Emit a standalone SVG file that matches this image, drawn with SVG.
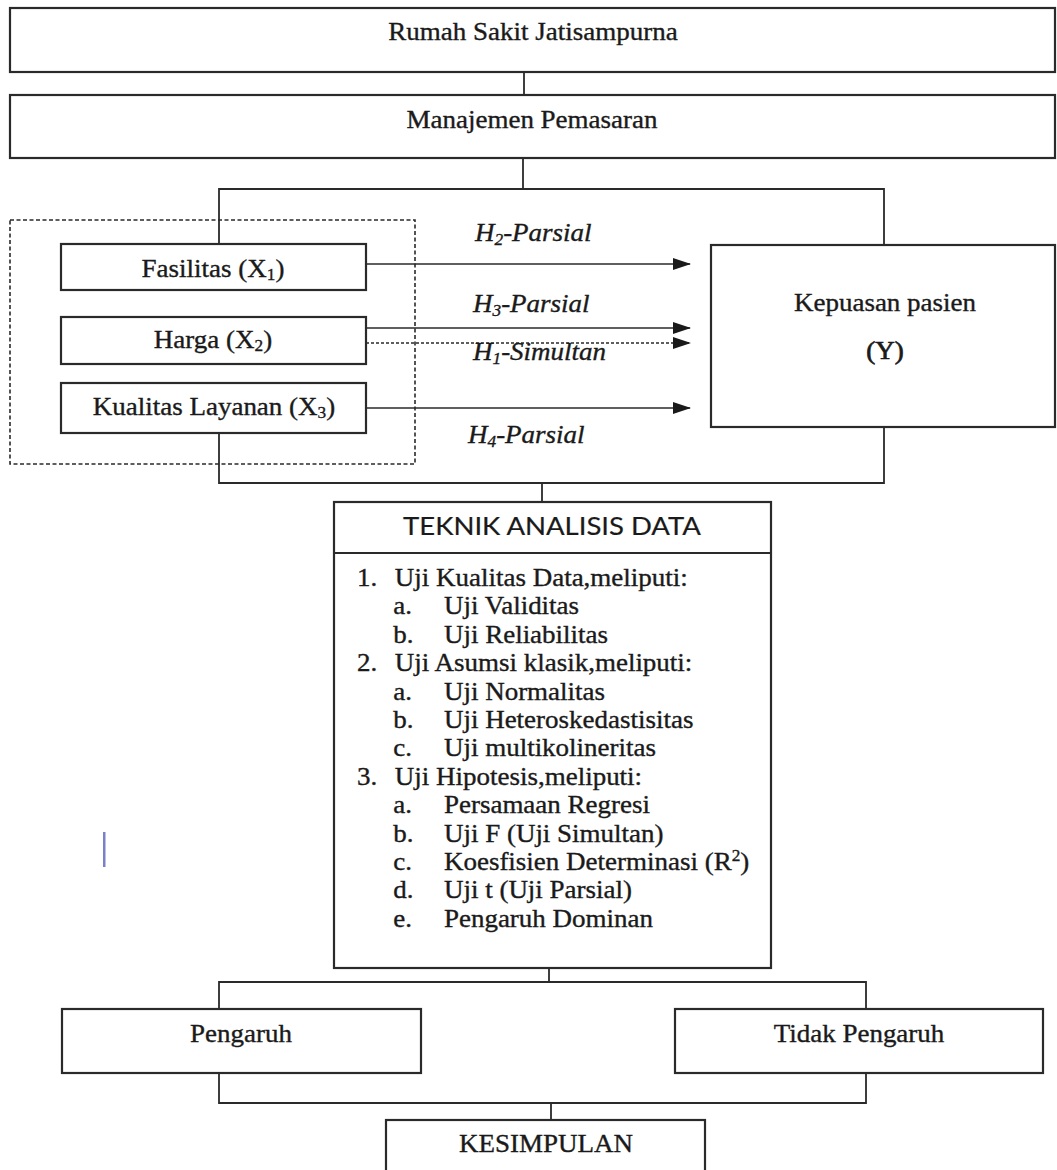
<svg xmlns="http://www.w3.org/2000/svg" width="1057" height="1170" viewBox="0 0 1057 1170">
<style>
.box{fill:#fff;stroke:#2a2a2a;stroke-width:2.2}
.dash{fill:none;stroke:#2a2a2a;stroke-width:1.6;stroke-dasharray:4 2.5}
.ln{fill:none;stroke:#2a2a2a;stroke-width:1.8}
.ar{fill:none;stroke:#2a2a2a;stroke-width:1.4;marker-end:url(#ah)}
.ard{fill:none;stroke:#2a2a2a;stroke-width:1.4;stroke-dasharray:3 2;marker-end:url(#ah)}
.t{font-family:"Liberation Serif","Times New Roman",serif;font-size:25px;fill:#1a1a1a;stroke:#1a1a1a;stroke-width:0.35}
.c{text-anchor:middle}
.it{font-style:italic}
.sans{font-family:Lato,"Open Sans","Liberation Sans",sans-serif;font-size:25px;stroke-width:0.2}
.sub{font-size:16px}
</style>
<defs>
<marker id="ah" markerWidth="18" markerHeight="12" refX="17" refY="6" orient="auto" markerUnits="userSpaceOnUse">
<path d="M0,0 L18,6 L0,12 Z" fill="#1a1a1a"/>
</marker>
</defs>
<rect width="1057" height="1170" fill="#fff"/>

<g id="connectors">
<path class="ln" d="M524,72 V95"/>
<path class="ln" d="M523,158 V189"/>
<path class="ln" d="M219,244 V189 H884 V245"/>
<path class="ln" d="M219,433 V483 H884 V427"/>
<path class="ln" d="M542,483 V502"/>
<path class="ln" d="M549,968 V982"/>
<path class="ln" d="M219,1009 V982 H866 V1009"/>
<path class="ln" d="M219,1073 V1103 H866 V1073"/>
<path class="ln" d="M551,1103 V1120"/>
<path class="ar" d="M366,264 H690"/>
<path class="ar" d="M366,328 H690"/>
<path class="ard" d="M366,343 H690"/>
<path class="ar" d="M366,408 H690"/>
</g>

<g id="group-x">
<rect class="dash" x="10" y="220" width="405" height="244"/>
</g>

<g id="node-rs">
<rect class="box" x="10" y="8" width="1045" height="64"/>
<text class="t c" transform="translate(533,40) scale(1.08,1)">Rumah Sakit Jatisampurna</text>
</g>
<g id="node-mp">
<rect class="box" x="10" y="95" width="1045" height="63"/>
<text class="t c" transform="translate(532,128) scale(1.08,1)">Manajemen Pemasaran</text>
</g>

<g id="node-x1">
<rect class="box" x="61" y="244" width="305" height="46"/>
<text class="t c" transform="translate(213,277) scale(1.08,1)">Fasilitas (X<tspan class="sub" dy="3">1</tspan><tspan dy="-3">)</tspan></text>
</g>
<g id="node-x2">
<rect class="box" x="61" y="317" width="305" height="47"/>
<text class="t c" transform="translate(213,348) scale(1.08,1)">Harga (X<tspan class="sub" dy="3">2</tspan><tspan dy="-3">)</tspan></text>
</g>
<g id="node-x3">
<rect class="box" x="61" y="383" width="305" height="50"/>
<text class="t c" transform="translate(214,415) scale(1.08,1)">Kualitas Layanan (X<tspan class="sub" dy="3">3</tspan><tspan dy="-3">)</tspan></text>
</g>

<g id="labels">
<text class="t it" transform="translate(475,241) scale(1.08,1)">H<tspan class="sub" dy="4">2</tspan><tspan dy="-4">-Parsial</tspan></text>
<text class="t it" transform="translate(473,312) scale(1.08,1)">H<tspan class="sub" dy="4">3</tspan><tspan dy="-4">-Parsial</tspan></text>
<text class="t it" transform="translate(473,360) scale(1.08,1)">H<tspan class="sub" dy="4">1</tspan><tspan dy="-4">-Simultan</tspan></text>
<text class="t it" transform="translate(468,443) scale(1.08,1)">H<tspan class="sub" dy="4">4</tspan><tspan dy="-4">-Parsial</tspan></text>
</g>

<g id="node-y">
<rect class="box" x="711" y="245" width="344" height="182"/>
<text class="t c" transform="translate(885,311) scale(1.08,1)">Kepuasan pasien</text>
<text class="t c" transform="translate(885,359) scale(1.08,1)" style="stroke-width:0.7">(Y)</text>
</g>

<g id="node-teknik">
<rect class="box" x="334" y="502" width="437" height="466"/>
<line class="ln" x1="334" y1="553" x2="771" y2="553"/>
<text class="t sans c" transform="translate(552,535) scale(1.1,1)">TEKNIK ANALISIS DATA</text>
<g class="t" transform="translate(357,0) scale(1.08,1)">
<text x="0" y="586">1.</text><text x="35" y="586">Uji Kualitas Data,meliputi:</text>
<text x="33.5" y="614.4">a.</text><text x="80.5" y="614.4">Uji Validitas</text>
<text x="33.5" y="642.8">b.</text><text x="80.5" y="642.8">Uji Reliabilitas</text>
<text x="0" y="671.2">2.</text><text x="35" y="671.2">Uji Asumsi klasik,meliputi:</text>
<text x="33.5" y="699.6">a.</text><text x="80.5" y="699.6">Uji Normalitas</text>
<text x="33.5" y="728">b.</text><text x="80.5" y="728">Uji Heteroskedastisitas</text>
<text x="33.5" y="756.4">c.</text><text x="80.5" y="756.4">Uji multikolineritas</text>
<text x="0" y="784.8">3.</text><text x="35" y="784.8">Uji Hipotesis,meliputi:</text>
<text x="33.5" y="813.2">a.</text><text x="80.5" y="813.2">Persamaan Regresi</text>
<text x="33.5" y="841.6">b.</text><text x="80.5" y="841.6">Uji F (Uji Simultan)</text>
<text x="33.5" y="870">c.</text><text x="80.5" y="870">Koesfisien Determinasi (R<tspan class="sub" dy="-9">2</tspan><tspan dy="9">)</tspan></text>
<text x="33.5" y="898.4">d.</text><text x="80.5" y="898.4">Uji t (Uji Parsial)</text>
<text x="33.5" y="926.8">e.</text><text x="80.5" y="926.8">Pengaruh Dominan</text>
</g>
</g>

<rect x="103" y="832" width="2.5" height="35" fill="#7c80c8"/>

<g id="node-pengaruh">
<rect class="box" x="62" y="1009" width="359" height="64"/>
<text class="t c" transform="translate(241,1042) scale(1.08,1)">Pengaruh</text>
</g>
<g id="node-tidak">
<rect class="box" x="675" y="1009" width="368" height="64"/>
<text class="t c" transform="translate(859,1042) scale(1.08,1)">Tidak Pengaruh</text>
</g>
<g id="node-kesimpulan">
<rect class="box" x="386" y="1120" width="319" height="70"/>
<text class="t c" transform="translate(546,1152) scale(1.08,1)">KESIMPULAN</text>
</g>
</svg>
